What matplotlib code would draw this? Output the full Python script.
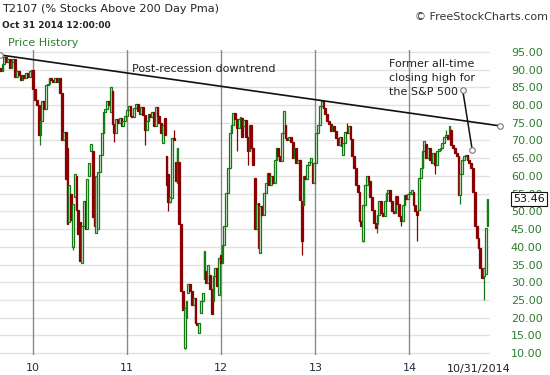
import matplotlib
matplotlib.use("Agg")
import matplotlib.pyplot as plt
import matplotlib.dates as mdates
import matplotlib.transforms as mtrans
import numpy as np
import pandas as pd

# weekly T2107 closes (Fridays), one list per calendar year
close_2009 = [89.5, 91.5, 93.5, 92.0, 93.0, 90.5, 92.0, 93.0, 88.0, 89.5,
              88.5, 87.0, 88.5, 87.5, 89.0, 88.0, 89.5, 90.0]
close_2010 = [84.5, 81.5, 80.0, 71.6, 75.4, 81.0, 79.0, 85.5, 86.0, 87.5,
              87.0, 86.5, 87.5, 86.5, 87.5, 83.5, 70.0, 72.5, 59.0, 46.5,
              57.5, 47.5, 52.0, 60.5, 50.5, 43.5, 36.0, 46.0, 53.0, 45.0,
              59.0, 63.5, 69.0, 48.5, 46.0, 60.0, 61.0, 66.0, 72.0, 78.0,
              79.0, 81.0, 80.0, 85.0, 74.5, 72.0, 76.0, 75.0, 76.3, 74.0,
              75.5, 77.0, 78.5]
close_2011 = [79.6, 77.0, 76.5, 79.2, 80.2, 78.3, 77.5, 79.5, 77.2, 73.0,
              75.5, 77.5, 76.5, 78.0, 74.0, 79.5, 77.0, 75.0, 72.0, 74.4,
              71.6, 57.5, 52.5, 54.0, 70.7, 70.0, 58.5, 67.9, 46.3, 27.5,
              22.3, 22.8, 24.7, 29.4, 27.5, 23.5, 25.5, 18.6, 18.0, 18.6,
              24.7, 27.0, 38.7, 29.8, 35.0, 28.0, 21.0, 31.7, 34.0, 29.0,
              36.9, 35.5]
close_2012 = [40.4, 45.8, 55.2, 62.2, 72.0, 74.4, 77.7, 76.0, 73.5, 76.0,
              76.5, 71.1, 75.8, 71.1, 66.9, 74.4, 68.0, 63.2, 44.9, 52.0,
              39.7, 51.4, 49.0, 55.2, 58.0, 60.8, 57.5, 60.0, 58.0, 64.6,
              67.9, 65.5, 64.1, 72.0, 78.2, 70.7, 70.0, 71.0, 69.5, 65.0,
              68.0, 63.6, 64.5, 53.3, 41.6, 59.9, 59.0, 63.2, 64.0, 65.0,
              58.0, 63.6]
close_2013 = [72.0, 74.4, 79.6, 81.0, 79.1, 77.5, 75.4, 74.5, 72.6, 74.0,
              72.6, 70.7, 68.8, 71.0, 68.3, 69.3, 72.5, 72.0, 74.0, 70.5,
              65.5, 62.2, 57.5, 55.6, 47.2, 45.8, 51.9, 57.5, 59.9, 58.5,
              54.0, 50.5, 46.7, 45.3, 49.1, 52.8, 49.5, 48.6, 52.8, 55.2,
              56.1, 52.8, 50.0, 49.5, 54.2, 52.0, 48.6, 47.2, 51.9, 54.7,
              53.5, 55.0]
close_2014 = [55.0, 56.0, 51.9, 50.0, 49.0, 59.4, 62.2, 66.9, 69.7, 65.0,
              68.0, 64.5, 63.6, 66.5, 63.0, 67.0, 67.4, 68.0, 69.3, 71.1,
              71.5, 70.5, 74.0, 68.8, 67.9, 66.5, 65.5, 54.7, 60.4, 64.6,
              65.5, 66.0, 64.6, 63.5, 62.2, 55.6, 45.8, 42.5, 39.7, 34.1,
              31.2, 34.1, 45.3, 53.46]

# opens that gap away from the prior close, keyed by (year, week of year)
open_fix = {(2009, 0): 90.5,
            (2010, 19): 68.0, (2010, 20): 47.0, (2010, 21): 55.0, (2010, 22): 40.0,
            (2010, 23): 54.0, (2010, 24): 60.0, (2010, 26): 47.0, (2010, 27): 35.5,
            (2010, 31): 60.0, (2010, 32): 67.0, (2010, 33): 67.0, (2010, 35): 44.0,
            (2010, 36): 45.0, (2010, 43): 78.0, (2010, 44): 84.0,
            (2011, 19): 69.3, (2011, 20): 76.3, (2011, 21): 65.5, (2011, 22): 60.4,
            (2011, 24): 53.8, (2011, 26): 64.0, (2011, 27): 58.0, (2011, 28): 64.0,
            (2011, 31): 11.5, (2011, 32): 20.0, (2011, 33): 27.0, (2011, 37): 25.6,
            (2011, 39): 15.7, (2011, 40): 21.4, (2011, 42): 30.8, (2011, 43): 33.1,
            (2011, 45): 32.0, (2011, 47): 24.7, (2011, 50): 26.5, (2011, 51): 37.8,
            (2012, 11): 76.3, (2012, 12): 74.0, (2012, 18): 59.4, (2012, 20): 52.4,
            (2012, 21): 38.3, (2012, 35): 74.4, (2012, 44): 52.8, (2012, 45): 51.9,
            (2012, 50): 63.6,
            (2013, 15): 66.0, (2013, 26): 41.6, (2013, 34): 46.3, (2013, 48): 47.2,
            (2014, 2): 55.6, (2014, 5): 50.5, (2014, 9): 69.0, (2014, 23): 73.0,
            (2014, 41): 31.7, (2014, 42): 32.2, (2014, 43): 45.8}
low_fix = {(2010, 4): 68.8, (2010, 22): 39.0, (2010, 45): 69.7,
           (2011, 9): 68.8, (2011, 22): 50.0, (2011, 31): 11.3,
           (2012, 8): 67.0, (2012, 14): 63.0, (2012, 44): 37.8,
           (2013, 26): 41.5, (2013, 34): 44.0, (2013, 47): 45.8,
           (2014, 4): 41.6, (2014, 14): 60.5, (2014, 28): 52.0, (2014, 41): 25.1}
high_fix = {(2011, 25): 73.0, (2013, 17): 75.0, (2014, 20): 73.0}

dates = pd.date_range("2009-08-28", "2014-10-31", freq="W-FRI")
closes = np.array(close_2009 + close_2010 + close_2011 + close_2012
                  + close_2013 + close_2014)
assert len(dates) == len(closes)
opens = np.r_[closes[0], closes[:-1]]
week = dates.to_series().groupby(dates.year).cumcount().values
keys = list(zip(dates.year, week))
for i, k in enumerate(keys):
    if k in open_fix:
        opens[i] = open_fix[k]
highs = np.maximum(opens, closes)
lows = np.minimum(opens, closes)
for i, k in enumerate(keys):
    if k in low_fix:
        lows[i] = low_fix[k]
    if k in high_fix:
        highs[i] = high_fix[k]

GREEN = "#157a15"
GREEN_FILL = "#e4f2e4"
RED = "#8b0000"
LABEL_GREEN = "#2f7d2f"

fig = plt.figure(figsize=(5.5, 3.75), dpi=100)
ax = fig.add_axes([0.0, 1 - 355 / 375, 490 / 550, 305 / 375])

xs = mdates.date2num(dates)
for x, o, c, h, l in zip(xs, opens, closes, highs, lows):
    up = c >= o
    col = GREEN if up else RED
    ax.vlines(x, l, h, color=col, lw=0.9, zorder=3)
    body = max(abs(c - o), 0.5)
    ax.bar(x, body, bottom=min(o, c), width=7.0,
           facecolor=GREEN_FILL if up else RED, edgecolor=col, lw=0.9, zorder=4)

ax.set_ylim(9.5, 95.5)
ax.set_xlim(mdates.date2num(pd.Timestamp("2009-08-25")),
            mdates.date2num(pd.Timestamp("2014-11-10")))

for v in range(10, 100, 5):
    ax.axhline(v, color="#e2e2e2", lw=1, zorder=1)
years = [pd.Timestamp(f"{y}-01-01") for y in range(2010, 2015)]
for d in years:
    ax.axvline(mdates.date2num(d), color="#8a8a8a", lw=1, zorder=2)

ax.set_xticks(mdates.date2num(years))
ax.set_xticklabels([f"{d.year % 100}" for d in years])
ax.tick_params(axis="x", length=0, pad=6, labelsize=8, labelcolor="#1e2d45")
ax.yaxis.tick_right()
ax.set_yticks(range(10, 100, 5))
ax.set_yticklabels([f"{v:.2f}" for v in range(10, 100, 5)])
ax.tick_params(axis="y", length=0, pad=15, labelsize=8, labelcolor=LABEL_GREEN)
for s in ax.spines.values():
    s.set_visible(False)

# trend line and annotation
trend_x = mdates.date2num(pd.to_datetime(["2009-08-26", "2014-12-19"]))
trend_y = [94.1, 74.1]
ax.plot(trend_x, trend_y, color="#111111", lw=1.2, clip_on=False, zorder=5)
ax.plot(trend_x, trend_y, "o", ms=4, mfc="white", mec="#777777", mew=0.8,
        clip_on=False, zorder=6)
ann_x = mdates.date2num(pd.to_datetime(["2014-07-27", "2014-09-02"]))
ann_y = [84.2, 67.3]
ax.plot(ann_x, ann_y, color="#111111", lw=1.1, zorder=5)
ax.plot(ann_x, ann_y, "o", ms=4, mfc="white", mec="#777777", mew=0.8, zorder=6)

fig.text(132 / 550, 1 - 69 / 375, "Post-recession downtrend", fontsize=8,
         color="#222222", va="center")
fig.text(389 / 550, 1 - 78 / 375, "Former all-time\nclosing high for\nthe S&P 500",
         fontsize=8, color="#222222", va="center", linespacing=1.45)

# header texts
fig.text(2 / 550, 1 - 9 / 375, "T2107 (% Stocks Above 200 Day Pma)", fontsize=8.1,
         color="#222222", va="center")
fig.text(2 / 550, 1 - 25 / 375, "Oct 31 2014 12:00:00", fontsize=6.5,
         color="#222222", va="center", fontweight="bold")
fig.text(8 / 550, 1 - 43 / 375, "Price History", fontsize=8, color=LABEL_GREEN,
         va="center")
fig.text(548 / 550, 1 - 17 / 375, "\u00a9 FreeStockCharts.com", fontsize=8,
         color="#333333", va="center", ha="right")
fig.text(447 / 550, 1 - 369 / 375, "10/31/2014", fontsize=8, color="#222222",
         va="center")

# last price box (drawn over the 55.00 label, as in the source chart)
trans = mtrans.blended_transform_factory(fig.transFigure, ax.transData)
ax.text(545 / 550, closes[-1], f"{closes[-1]:.2f}", transform=trans, ha="right",
        va="center", fontsize=8, color="#111111", clip_on=False, zorder=10,
        bbox=dict(boxstyle="square,pad=0.2", fc="white", ec="#111111", lw=0.8))

fig.savefig("out.png", dpi=100)
